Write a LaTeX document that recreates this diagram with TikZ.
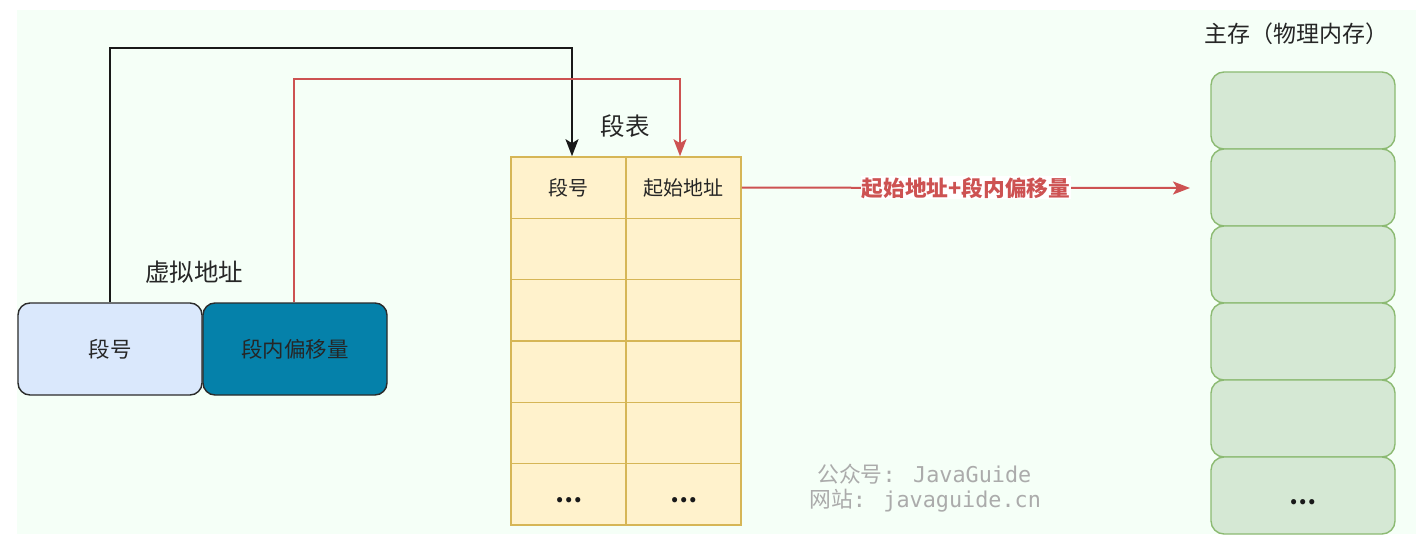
\documentclass[tikz,border=0pt]{standalone}
\usepackage{fontspec}
\setmainfont{Noto Sans CJK SC}
\newfontfamily\monof{DejaVu Sans Mono}
\usetikzlibrary{arrows.meta}
\definecolor{bgmint}{HTML}{F5FFF7}
\definecolor{seglight}{HTML}{DAE8FC}
\definecolor{segdark}{HTML}{0581AA}
\definecolor{boxline}{HTML}{2B2B2B}
\definecolor{tabfill}{HTML}{FFF2CC}
\definecolor{tabline}{HTML}{D6B656}
\definecolor{memfill}{HTML}{D5E8D4}
\definecolor{memline}{HTML}{8CBA72}
\definecolor{redline}{HTML}{CD5252}
\definecolor{wmgray}{HTML}{ABABAB}
\tikzset{
  vbox/.style={draw=boxline, line width=1.4pt, rounded corners=12pt, minimum width=184pt, minimum height=92pt, inner sep=0pt, font=\fontsize{21.5}{25}\selectfont, text=black!85},
  cell/.style={draw=tabline, fill=tabfill, line width=1.6pt, minimum width=115pt, minimum height=61.33pt, inner sep=0pt},
  celltext/.style={font=\fontsize{20}{24}\selectfont, text=black!85, inner sep=0pt},
  dots/.style={font=\fontsize{24}{28}\selectfont\bfseries, text=black!90, inner sep=0pt},
  memblk/.style={draw=memline, fill=memfill, line width=1.4pt, rounded corners=13pt, minimum width=184pt, minimum height=77pt, inner sep=0pt},
  title/.style={font=\fontsize{24.5}{28}\selectfont, text=black!85, inner sep=0pt},
  blackarrow/.style={draw=black!90, line width=2pt, -{Stealth[length=17pt,width=13pt,inset=4pt]}},
  redarrow/.style={draw=redline, line width=2pt, -{Stealth[length=17pt,width=13pt,inset=4pt]}},
  redlabel/.style={fill=white, text=redline, font=\fontsize{21.7}{25}\selectfont\bfseries, inner sep=1pt},
  wmark/.style={text=wmgray, font=\fontsize{21.8}{25}\selectfont, inner sep=0pt}
}
\begin{document}
\begin{tikzpicture}[x=1pt,y=-1pt]
\useasboundingbox (0,0) rectangle (1416,556);
\fill[bgmint] (17,10) rectangle (1416,534);

% virtual address
\node[title] (vtitle) at (194,272) {虚拟地址};
\node[vbox, fill=seglight] (seg) at (110,349) {段号};
\node[vbox, fill=segdark] (off) at (295,349) {段内偏移量};

% segment table
\node[title] (ttitle) at (625,126) {段表};
\foreach \r in {0,...,5} {
  \node[cell] (t\r0) at (568.5,{187.67+61.33*\r}) {};
  \node[cell] (t\r1) at (683.5,{187.67+61.33*\r}) {};
}
\node[celltext] (h0) at (t00) {段号};
\node[celltext] (h1) at (t01) {起始地址};
\node[dots] (d0) at ([yshift=-6pt]t50.center) {…};
\node[dots] (d1) at ([yshift=-6pt]t51.center) {…};

% main memory
\node[font=\fontsize{23}{27}\selectfont, text=black!85, inner sep=0pt] (mtitle) at (1296,34) {主存（物理内存）};
\foreach \i in {0,...,5} {
  \node[memblk] (m\i) at (1303,{110.5+77*\i}) {};
}
\node[dots] (d2) at ([yshift=-7pt]m5.center) {…};

% connectors
\draw[blackarrow] (seg.north) -- ++(0,-254) -| ([xshift=3.5pt]t00.north);
\draw[redarrow] ([xshift=-1pt]off.north) -- ++(0,-223) -| ([xshift=-3.5pt]t01.north);
\coordinate (memin) at (1190,188);
\draw[redarrow] (t01.east) -- node[redlabel] (addr) {起始地址+段内偏移量} (memin);

% watermark
\node[wmark, anchor=west] (wm1) at (817,474) {公众号{\monof: JavaGuide}};
\node[wmark, anchor=west] (wm2) at (809,501) {网站{\monof: javaguide.cn}};
\end{tikzpicture}
\end{document}
